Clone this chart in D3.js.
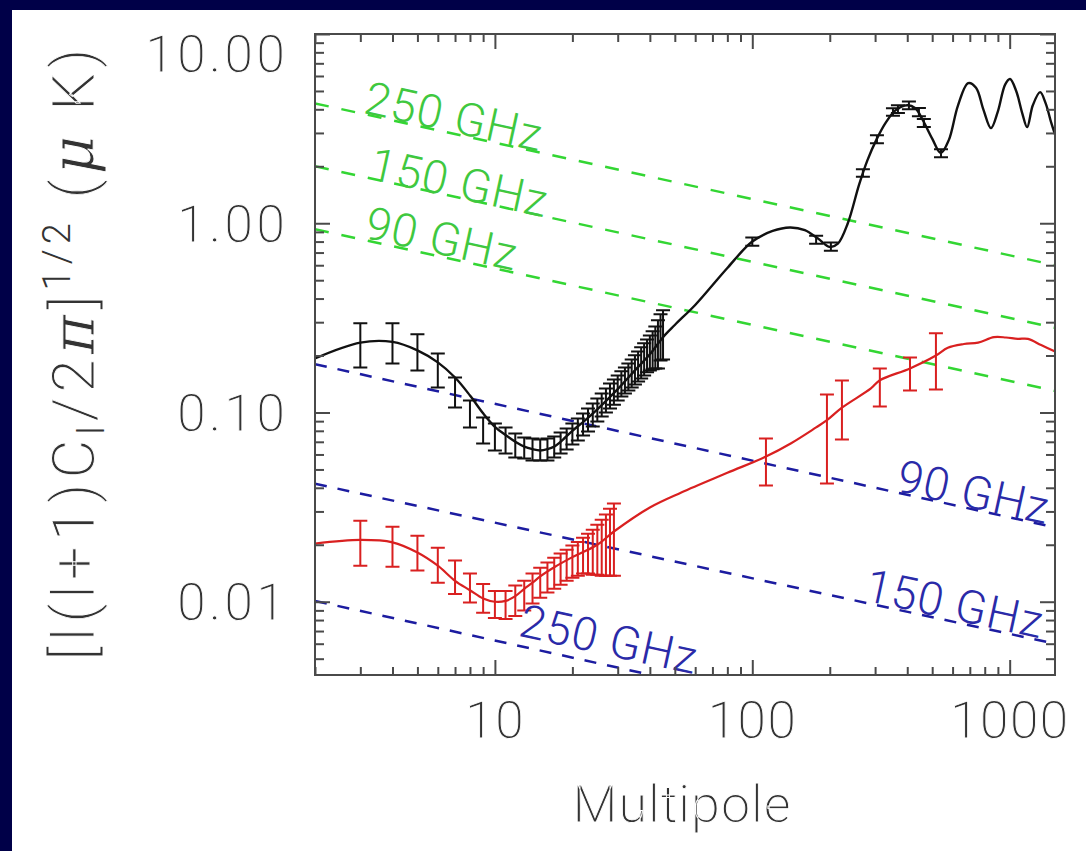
<!DOCTYPE html>
<html>
<head>
<meta charset="utf-8">
<script src="https://cdn.jsdelivr.net/npm/d3@7"></script>
<style>
html, body { margin: 0; padding: 0; background: #000048; }
svg { display: block; }
text { font-family: Roboto, "Liberation Sans", sans-serif; }
.thin { stroke: #fff; stroke-width: 0.9px; }
.thin .small { stroke: none; }
</style>
</head>
<body>
<svg id="chart" width="1086" height="851"></svg>
<script>
// black theory curve (multipole, microK)
const blackCurve = [[2,0.193],[3,0.234],[4,0.236],[5,0.213],[6,0.184],[7,0.153],[8,0.123],[9,0.099],
  [10,0.084],[11,0.076],[12,0.070],[13,0.066],[14,0.064],[15,0.063],[16,0.064],[17,0.066],[18,0.070],
  [20,0.080],[22,0.089],[25,0.104],[30,0.133],[35,0.167],[40,0.203],[45,0.25],[50,0.29],[60,0.37],
  [70,0.47],[80,0.58],[100,0.80],[120,0.91],[140,0.95],[160,0.92],[180,0.83],[200,0.75],[215,0.78],
  [235,1.0],[260,1.6],[280,2.15],[305,2.8],[330,3.4],[360,3.95],[400,4.2],[430,4.05],[460,3.5],
  [500,2.8],[540,2.35],[580,2.75],[630,4.2],[690,5.5],[740,5.2],[790,4.0],[846,3.18],[900,3.9],
  [960,5.4],[1003,5.78],[1060,5.0],[1120,3.8],[1169,3.22],[1230,4.2],[1313,4.93],[1380,4.3],
  [1450,3.4],[1500,2.95]];
// black error bars [l, low, high]
const blackBars = [[3,0.173,0.296],[4,0.1815,0.296],[5,0.1667,0.259],[6,0.1355,0.205],[7,0.1062,0.153],
  [8,0.0834,0.1156],[9,0.0686,0.0942],[10,0.063,0.0875],[11,0.0607,0.0834],[12,0.0578,0.0775],
  [13,0.0571,0.0738],[14,0.0557,0.0728],[15,0.0557,0.0719],[16,0.0557,0.0728],[17,0.0578,0.0747],
  [18,0.0607,0.0784],[19,0.0637,0.0822],[20,0.0678,0.0875],[21,0.0711,0.0929],[22,0.0755,0.0988],
  [23,0.0793,0.105],[24,0.0843,0.1117],[25,0.0896,0.1187],[26,0.0953,0.126],[27,0.1,0.134],
  [28,0.105,0.1424],[29,0.11,0.1496],[30,0.1156,0.157],[31,0.1216,0.165],[32,0.126,0.173],
  [33,0.1306,0.1815],[34,0.1355,0.1905],[35,0.1406,0.2004],[36,0.146,0.21],[37,0.151,0.221],
  [38,0.157,0.232],[39,0.163,0.243],[40,0.1667,0.255],[41,0.169,0.2685],[42,0.171,0.285],
  [43,0.171,0.307],[44,0.188,0.33],[45,0.1905,0.347],
  [100,0.76,0.84],[177,0.78,0.86],[202,0.715,0.79],[269,1.76,1.93],[305,2.65,2.92],[352,3.7,4.05],
  [368,3.82,4.2],[406,4.0,4.4],[444,3.68,4.06],[464,3.23,3.56],[541,2.23,2.46]];
// red curve
const redCurve = [[2,0.0203],[3,0.0212],[4,0.0206],[5,0.0182],[6,0.0155],[7,0.0129],[8,0.0115],
  [9,0.0104],[10,0.0100],[11,0.0101],[12,0.0107],[13,0.0117],[14,0.0126],[15,0.0136],[17,0.0152],
  [20,0.0172],[25,0.0200],[29,0.0235],[40,0.0315],[53,0.0378],[80,0.048],[113,0.0585],[141,0.0686],
  [177,0.0834],[195,0.091],[223,0.106],[289,0.134],[313,0.148],[410,0.171],[517,0.200],[575,0.22],
  [664,0.23],[754,0.234],[869,0.25],[968,0.249],[1075,0.245],[1178,0.245],[1325,0.227],[1500,0.21]];
const redBars = [[3,0.0155,0.0268],[4,0.0153,0.0249],[5,0.0146,0.0223],[6,0.0126,0.0193],
  [7,0.011,0.0165],[8,0.0099,0.0141],[9,0.00875,0.0124],[10,0.0082,0.0114],[11,0.0081,0.0114],
  [12,0.0084,0.0122],[13,0.009,0.0129],[14,0.0098,0.0141],[15,0.0105,0.0151],[16,0.0112,0.0161],
  [17,0.0117,0.0171],[18,0.0123,0.018],[19,0.0129,0.0188],[20,0.0134,0.0198],[21,0.0137,0.0207],
  [22,0.0141,0.0218],[23,0.0141,0.0229],[24,0.0139,0.024],[25,0.0139,0.0255],[26,0.0137,0.0271],
  [27,0.0137,0.0289],[28,0.0137,0.031],[29,0.0137,0.033],
  [113,0.0411,0.0728],[195,0.0421,0.1245],[223,0.0719,0.1476],[313,0.1076,0.171],
  [410,0.1306,0.1955],[517,0.1324,0.262]];
// foreground levels, value at l=2 and l=1500
const greenLines = [["250 GHz",4.3,0.60],["150 GHz",2.0,0.28],["90 GHz",0.93,0.13]];
const blueLines = [["90 GHz",0.18,0.0247],["150 GHz",0.042,0.0060],["250 GHz",0.0101,0.00139]];
// where each label starts (multipole)
const greenLabelAt = [3.05,3.2,3.07];
const blueLabelAt = [358,269,12.2];
const yMajor = [0.01,0.1,1,10];
const yLabels = ["0.01","0.10","1.00","10.00"];
const xMajor = [10,100,1000];
const xLabels = ["10","100","1000"];

const W = 1086, H = 851;
const L = 315, R = 1055, T = 34, B = 675;
const axisCol = "#4a4a4a";
const svg = d3.select("#chart");
svg.append("rect").attr("x", 12).attr("y", 10).attr("width", W - 12).attr("height", H - 10).attr("fill", "#fff");

const x = d3.scaleLog().domain([2, 1500]).range([L, R]);
const y = d3.scaleLog().domain([0.0041, 10]).range([B, T]);

svg.append("clipPath").attr("id", "clip").append("rect")
  .attr("x", L).attr("y", T).attr("width", R - L).attr("height", B - T);
const plot = svg.append("g").attr("clip-path", "url(#clip)");
const labels = svg.append("g");

function fgLines(data, labelAt, shift, color, txtColor, dash) {
  data.forEach((d, i) => {
    const y0 = y(d[1]), y1 = y(d[2]);
    plot.append("line").attr("x1", L).attr("y1", y0).attr("x2", R).attr("y2", y1)
      .attr("stroke", color).attr("stroke-width", 2.5).attr("stroke-dasharray", dash);
    const lx = x(labelAt[i]);
    const ly = y0 + (y1 - y0) * (lx - L) / (R - L);
    const ang = Math.atan2(y1 - y0, R - L) * 180 / Math.PI;
    labels.append("text").attr("transform", `translate(${lx},${ly + shift[i]}) rotate(${ang})`)
      .attr("fill", txtColor).attr("font-size", 46).attr("font-weight", 300)
      .attr("letter-spacing", 1).text(d[0]);
  });
}
fgLines(greenLines, greenLabelAt, [-1, 1, -2], "#33d633", "#3fc83f", "14,13");
fgLines(blueLines, blueLabelAt, [-1, -2, -10], "#1c1ca0", "#2a2aa8", "12,11");

const line = d3.line().x(d => x(d[0])).y(d => y(d[1])).curve(d3.curveCatmullRom);
function bars(data, color) {
  plot.append("g").attr("stroke", color).attr("stroke-width", 2).attr("fill", "none")
    .selectAll("path").data(data).join("path")
    .attr("d", d => {
      const cx = x(d[0]), a = y(d[1]), b = y(d[2]);
      return `M${cx},${a}V${b}M${cx - 7},${a}h14M${cx - 7},${b}h14`;
    });
}
plot.append("path").datum(redCurve).attr("d", line).attr("fill", "none").attr("stroke", "#d92020").attr("stroke-width", 2.2);
bars(redBars, "#d92020");
plot.append("path").datum(blackCurve).attr("d", line).attr("fill", "none").attr("stroke", "#111").attr("stroke-width", 2.4);
bars(blackBars, "#111");

// axes, ticks pointing inwards
const xMinor = x.ticks().filter(v => !xMajor.includes(v));
const yMinor = y.ticks().filter(v => !yMajor.some(m => Math.abs(m - v) < 1e-9));
function tickAxis(axis, pos, vals, size) {
  const g = svg.append("g").attr("transform", pos)
    .call(axis.tickValues(vals).tickSize(-size).tickFormat(""));
  g.select(".domain").remove();
  g.selectAll("line").attr("stroke", axisCol).attr("stroke-width", 2);
  return g;
}
tickAxis(d3.axisBottom(x), `translate(0,${B})`, xMinor, 8);
tickAxis(d3.axisBottom(x), `translate(0,${B})`, xMajor, 15);
tickAxis(d3.axisTop(x), `translate(0,${T})`, xMinor, 8);
tickAxis(d3.axisTop(x), `translate(0,${T})`, xMajor, 15);
tickAxis(d3.axisLeft(y), `translate(${L},0)`, yMinor, 9);
tickAxis(d3.axisLeft(y), `translate(${L},0)`, yMajor, 15);
tickAxis(d3.axisRight(y), `translate(${R},0)`, yMinor, 9);
tickAxis(d3.axisRight(y), `translate(${R},0)`, yMajor, 15);
svg.append("rect").attr("x", L).attr("y", T).attr("width", R - L).attr("height", B - T)
  .attr("fill", "none").attr("stroke", axisCol).attr("stroke-width", 2);

svg.append("g").selectAll("text").data(yMajor).join("text")
  .attr("class", "thin")
  .attr("x", 288).attr("y", d => y(d) + (d === 10 ? 19 : 0)).attr("dy", "0.36em")
  .attr("text-anchor", "end").attr("font-size", 52).attr("font-weight", 300)
  .attr("letter-spacing", 3).attr("fill", "#333")
  .text((d, i) => yLabels[i]);
svg.append("g").selectAll("text").data(xMajor).join("text")
  .attr("class", "thin")
  .attr("x", d => x(d)).attr("y", 738).attr("text-anchor", "middle")
  .attr("font-size", 52).attr("font-weight", 300).attr("letter-spacing", 1).attr("fill", "#333")
  .text((d, i) => xLabels[i]);
svg.append("text").attr("class", "thin").attr("x", 682).attr("y", 822).attr("text-anchor", "middle")
  .attr("font-size", 52).attr("font-weight", 300).attr("letter-spacing", 1).attr("fill", "#333")
  .text("Multipole");

const yt = svg.append("text").attr("class", "thin").attr("transform", "translate(94,352) rotate(-90)")
  .attr("text-anchor", "middle").attr("font-size", 60).attr("font-weight", 300)
  .attr("letter-spacing", 5).attr("fill", "#333");
yt.append("tspan").text("[l(l+1)C");
yt.append("tspan").attr("class", "small").attr("font-size", 36).attr("dy", 10).text("l");
yt.append("tspan").attr("dy", -10).text("/2");
yt.append("tspan").attr("font-family", "DejaVu Serif").attr("font-style", "italic").text("π");
yt.append("tspan").text("]");
yt.append("tspan").attr("class", "small").attr("font-size", 38).attr("dy", -24).text("1/2");
yt.append("tspan").attr("dy", 24).text(" (");
yt.append("tspan").attr("font-family", "DejaVu Serif").attr("font-style", "italic").text("μ");
yt.append("tspan").text(" K)");
</script>
</body>
</html>
